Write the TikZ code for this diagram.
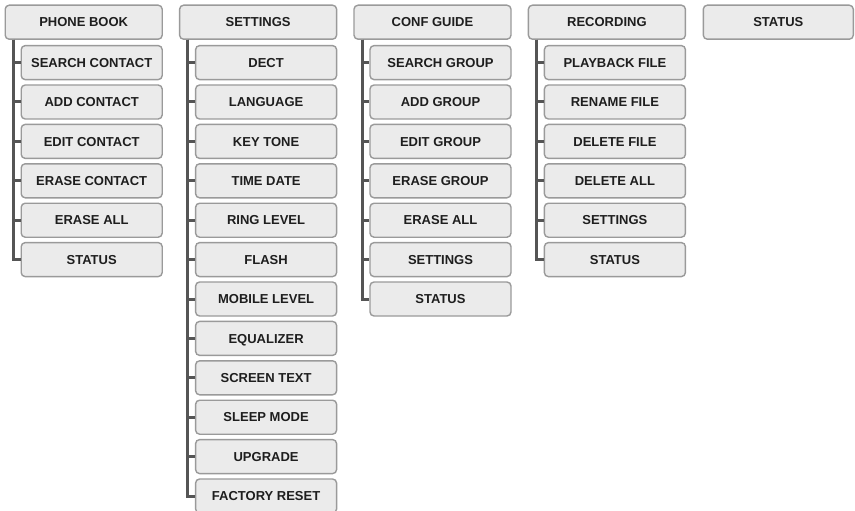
\documentclass[tikz,border=0pt]{standalone}
\usepackage{fontspec}
\setmainfont{Liberation Sans}
\usepackage{tikz}
\usetikzlibrary{positioning}
\definecolor{boxfill}{HTML}{EBEBEB}
\definecolor{boxline}{HTML}{9A9A9A}
\definecolor{treeline}{HTML}{555555}
\definecolor{labeltext}{HTML}{1E1E1E}
\tikzstyle{menu} = [rectangle, rounded corners=4pt, minimum width=157pt, minimum height=34pt, inner sep=0pt, text height=9.4pt, text depth=0pt, text centered, draw=boxline, line width=1.4pt, fill=boxfill, text=labeltext, font=\bfseries\fontsize{13}{15}\selectfont]
\tikzstyle{item} = [menu, minimum width=141pt]
\tikzstyle{branch} = [line width=3pt, draw=treeline]

\begin{document}
\begin{tikzpicture}
\useasboundingbox (0,0) rectangle (855pt,-511pt);
% top row
\node (phone) [menu, anchor=north west] at (4.5pt,-4.5pt) {PHONE BOOK};
\node (settings) [menu, right=16pt of phone] {SETTINGS};
\node (conf) [menu, right=16pt of settings] {CONF GUIDE};
\node (rec) [menu, right=16pt of conf] {RECORDING};
\node (status) [menu, right=16.5pt of rec, minimum width=150pt] {STATUS};
% phone book
\node (phone1) [item, below left=5pt and 0pt of phone.south east] {SEARCH CONTACT};
\node (phone2) [item, below=4pt of phone1] {ADD CONTACT};
\node (phone3) [item, below=4pt of phone2] {EDIT CONTACT};
\node (phone4) [item, below=4pt of phone3] {ERASE CONTACT};
\node (phone5) [item, below=4pt of phone4] {ERASE ALL};
\node (phone6) [item, below=4pt of phone5] {STATUS};
% settings
\node (set1) [item, below left=5pt and 0pt of settings.south east] {DECT};
\node (set2) [item, below=4pt of set1] {LANGUAGE};
\node (set3) [item, below=4pt of set2] {KEY TONE};
\node (set4) [item, below=4pt of set3] {TIME DATE};
\node (set5) [item, below=4pt of set4] {RING LEVEL};
\node (set6) [item, below=4pt of set5] {FLASH};
\node (set7) [item, below=4pt of set6] {MOBILE LEVEL};
\node (set8) [item, below=4pt of set7] {EQUALIZER};
\node (set9) [item, below=4pt of set8] {SCREEN TEXT};
\node (set10) [item, below=4pt of set9] {SLEEP MODE};
\node (set11) [item, below=4pt of set10] {UPGRADE};
\node (set12) [item, below=4pt of set11] {FACTORY RESET};
% conf guide
\node (conf1) [item, below left=5pt and 0pt of conf.south east] {SEARCH GROUP};
\node (conf2) [item, below=4pt of conf1] {ADD GROUP};
\node (conf3) [item, below=4pt of conf2] {EDIT GROUP};
\node (conf4) [item, below=4pt of conf3] {ERASE GROUP};
\node (conf5) [item, below=4pt of conf4] {ERASE ALL};
\node (conf6) [item, below=4pt of conf5] {SETTINGS};
\node (conf7) [item, below=4pt of conf6] {STATUS};
% recording
\node (rec1) [item, below left=5pt and 0pt of rec.south east] {PLAYBACK FILE};
\node (rec2) [item, below=4pt of rec1] {RENAME FILE};
\node (rec3) [item, below=4pt of rec2] {DELETE FILE};
\node (rec4) [item, below=4pt of rec3] {DELETE ALL};
\node (rec5) [item, below=4pt of rec4] {SETTINGS};
\node (rec6) [item, below=4pt of rec5] {STATUS};
% branches
\draw [branch] ([xshift=9pt]phone.south west) |- (phone1.west);
\draw [branch] ([xshift=9pt]phone.south west) |- (phone2.west);
\draw [branch] ([xshift=9pt]phone.south west) |- (phone3.west);
\draw [branch] ([xshift=9pt]phone.south west) |- (phone4.west);
\draw [branch] ([xshift=9pt]phone.south west) |- (phone5.west);
\draw [branch] ([xshift=9pt]phone.south west) |- (phone6.west);
\draw [branch] ([xshift=9pt]settings.south west) |- (set1.west);
\draw [branch] ([xshift=9pt]settings.south west) |- (set2.west);
\draw [branch] ([xshift=9pt]settings.south west) |- (set3.west);
\draw [branch] ([xshift=9pt]settings.south west) |- (set4.west);
\draw [branch] ([xshift=9pt]settings.south west) |- (set5.west);
\draw [branch] ([xshift=9pt]settings.south west) |- (set6.west);
\draw [branch] ([xshift=9pt]settings.south west) |- (set7.west);
\draw [branch] ([xshift=9pt]settings.south west) |- (set8.west);
\draw [branch] ([xshift=9pt]settings.south west) |- (set9.west);
\draw [branch] ([xshift=9pt]settings.south west) |- (set10.west);
\draw [branch] ([xshift=9pt]settings.south west) |- (set11.west);
\draw [branch] ([xshift=9pt]settings.south west) |- (set12.west);
\draw [branch] ([xshift=9pt]conf.south west) |- (conf1.west);
\draw [branch] ([xshift=9pt]conf.south west) |- (conf2.west);
\draw [branch] ([xshift=9pt]conf.south west) |- (conf3.west);
\draw [branch] ([xshift=9pt]conf.south west) |- (conf4.west);
\draw [branch] ([xshift=9pt]conf.south west) |- (conf5.west);
\draw [branch] ([xshift=9pt]conf.south west) |- (conf6.west);
\draw [branch] ([xshift=9pt]conf.south west) |- (conf7.west);
\draw [branch] ([xshift=9pt]rec.south west) |- (rec1.west);
\draw [branch] ([xshift=9pt]rec.south west) |- (rec2.west);
\draw [branch] ([xshift=9pt]rec.south west) |- (rec3.west);
\draw [branch] ([xshift=9pt]rec.south west) |- (rec4.west);
\draw [branch] ([xshift=9pt]rec.south west) |- (rec5.west);
\draw [branch] ([xshift=9pt]rec.south west) |- (rec6.west);
\end{tikzpicture}
\end{document}
